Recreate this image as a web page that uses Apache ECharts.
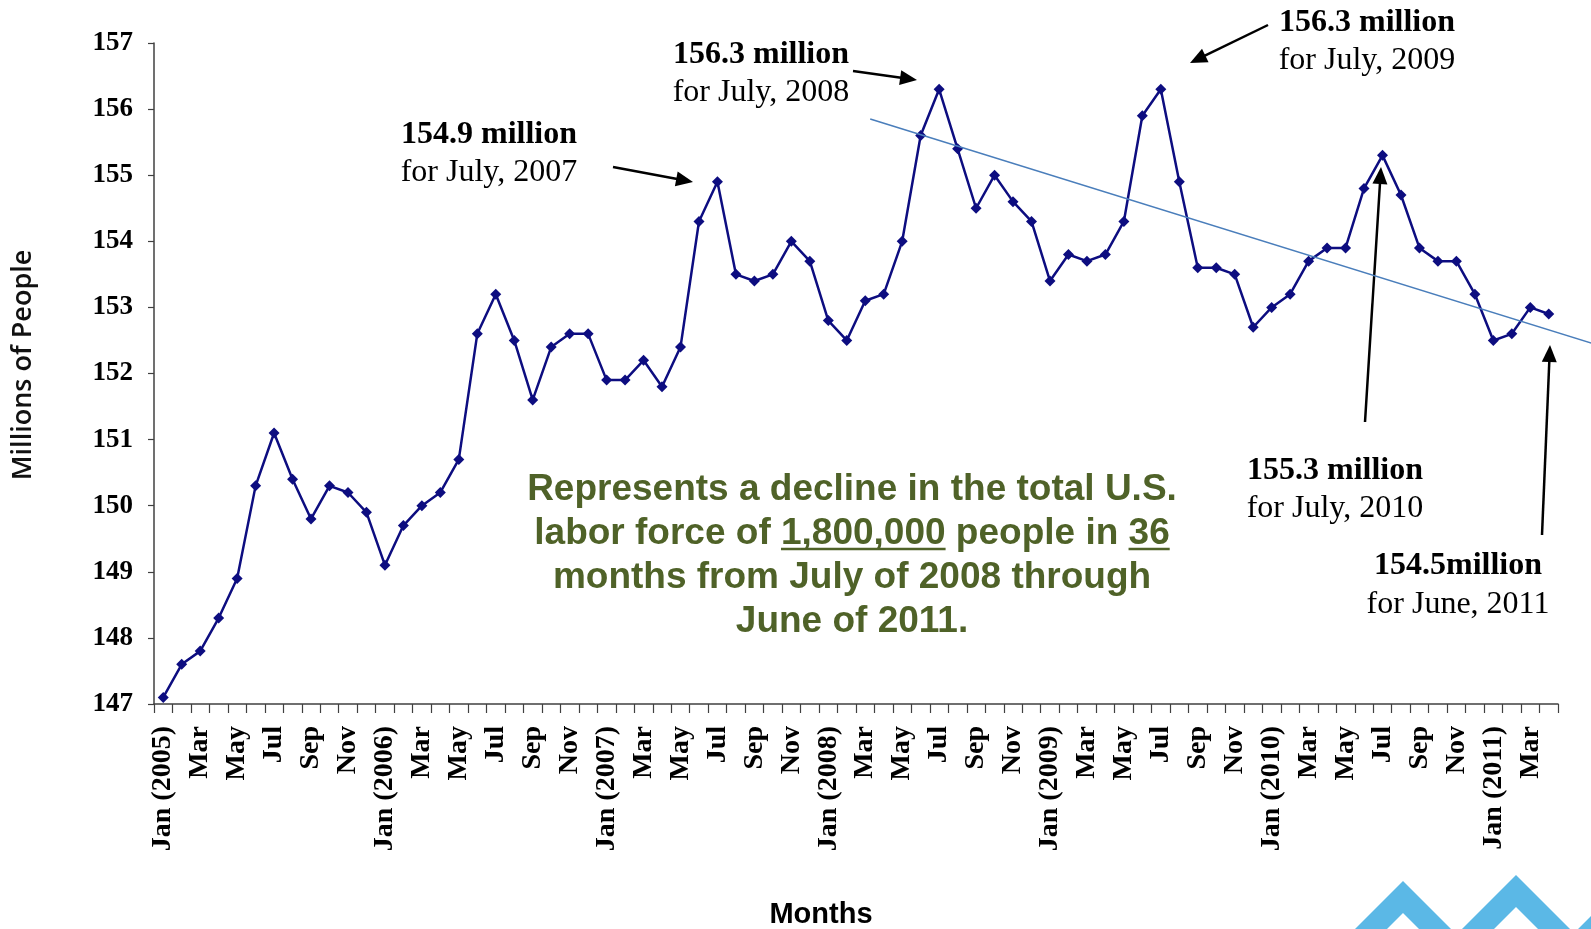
<!DOCTYPE html>
<html>
<head>
<meta charset="utf-8">
<title>U.S. Labor Force</title>
<script src="https://cdn.jsdelivr.net/npm/echarts@6/dist/echarts.min.js"></script>
<style>
  html, body { margin: 0; padding: 0; background: #ffffff; }
  #chart { width: 1591px; height: 929px; }
</style>
</head>
<body>
<div id="chart"></div>
<script>
// Month categories, Jan 2005 through Apr 2011
const months = [
  'Jan (2005)', 'Feb', 'Mar', 'Apr', 'May', 'Jun', 'Jul', 'Aug', 'Sep', 'Oct', 'Nov', 'Dec',
  'Jan (2006)', 'Feb', 'Mar', 'Apr', 'May', 'Jun', 'Jul', 'Aug', 'Sep', 'Oct', 'Nov', 'Dec',
  'Jan (2007)', 'Feb', 'Mar', 'Apr', 'May', 'Jun', 'Jul', 'Aug', 'Sep', 'Oct', 'Nov', 'Dec',
  'Jan (2008)', 'Feb', 'Mar', 'Apr', 'May', 'Jun', 'Jul', 'Aug', 'Sep', 'Oct', 'Nov', 'Dec',
  'Jan (2009)', 'Feb', 'Mar', 'Apr', 'May', 'Jun', 'Jul', 'Aug', 'Sep', 'Oct', 'Nov', 'Dec',
  'Jan (2010)', 'Feb', 'Mar', 'Apr', 'May', 'Jun', 'Jul', 'Aug', 'Sep', 'Oct', 'Nov', 'Dec',
  'Jan (2011)', 'Feb', 'Mar', 'Apr'
];

// Total labor force, millions of people
const laborForce = [
  147.1, 147.6, 147.8, 148.3, 148.9, 150.3, 151.1, 150.4, 149.8, 150.3, 150.2, 149.9,
  149.1, 149.7, 150.0, 150.2, 150.7, 152.6, 153.2, 152.5, 151.6, 152.4, 152.6, 152.6,
  151.9, 151.9, 152.2, 151.8, 152.4, 154.3, 154.9, 153.5, 153.4, 153.5, 154.0, 153.7,
  152.8, 152.5, 153.1, 153.2, 154.0, 155.6, 156.3, 155.4, 154.5, 155.0, 154.6, 154.3,
  153.4, 153.8, 153.7, 153.8, 154.3, 155.9, 156.3, 154.9, 153.6, 153.6, 153.5, 152.7,
  153.0, 153.2, 153.7, 153.9, 153.9, 154.8, 155.3, 154.7, 153.9, 153.7, 153.7, 153.2,
  152.5, 152.6, 153.0, 152.9
];

// Y axis range and step (millions)
const yMin = 147;
const yMax = 157;
const yStep = 1;

// Downward trend line: [month index, millions] at each end
const trendStart = [38.27, 155.85];
const trendEnd = [77.3, 152.46];

// Callout texts
const calloutValues = ['154.9 million', '156.3 million', '156.3 million', '155.3 million', '154.5million'];
const calloutPeriods = ['for July, 2007', 'for July, 2008', 'for July, 2009', 'for July, 2010', 'for June, 2011'];

// Summary note
const noteLines = [
  'Represents a decline in the total U.S.',
  'labor force of 1,800,000 people in 36',
  'months from July of 2008 through',
  'June of 2011.'
];
const noteUnderlined = ['1,800,000', '36'];

// ---- layout ----
const calloutLayout = [
  { x: 489,  y1: 135, y2: 173, from: [613, 167], to: [693, 182] },
  { x: 761,  y1: 55,  y2: 93,  from: [853, 71],  to: [917, 80] },
  { x: 1367, y1: 23,  y2: 61,  from: [1268, 25], to: [1190, 63] },
  { x: 1335, y1: 471, y2: 509, from: [1365, 422], to: [1381, 167] },
  { x: 1458, y1: 566, y2: 605, from: [1542, 535], to: [1550, 345] }
];
const serif = '"Liberation Serif", "Times New Roman", serif';
const sans = '"Liberation Sans", Arial, sans-serif';
const green = '#4f6228';
const noteFont = 'bold 37px ' + sans;
const noteCenterX = 852;
const noteTopY = 490;
const noteLineH = 44;

function arrow(from, to) {
  const [x1, y1] = from;
  const [x2, y2] = to;
  const a = Math.atan2(y2 - y1, x2 - x1);
  const L = 17, H = 7.5;
  const c = Math.cos(a), s = Math.sin(a);
  const bx = x2 - L * c, by = y2 - L * s;
  return [
    { type: 'line', silent: true, shape: { x1: x1, y1: y1, x2: bx + c, y2: by + s },
      style: { stroke: '#000', lineWidth: 2.5 } },
    { type: 'polygon', silent: true,
      shape: { points: [[x2, y2], [bx + H * s, by - H * c], [bx - H * s, by + H * c]] },
      style: { fill: '#000' } }
  ];
}

function chevron(px, py, t, L) {
  return {
    type: 'polygon', silent: true,
    shape: { points: [[px, py], [px + L, py + L], [px + L - t, py + L], [px, py + t],
                      [px - L + t, py + L], [px - L, py + L]] },
    style: { fill: '#5bb8e6' }
  };
}

const measureCtx = document.createElement('canvas').getContext('2d');
function textWidth(str, font) {
  measureCtx.font = font;
  return measureCtx.measureText(str).width;
}

const graphics = [];

// Axis titles
graphics.push({
  type: 'text', x: 23, y: 365, rotation: Math.PI / 2, silent: true,
  style: { text: 'Millions of People', font: '600 27px "Open Sans", sans-serif', fill: '#111',
           textAlign: 'center', textVerticalAlign: 'middle' }
});
graphics.push({
  type: 'text', x: 821, y: 915, silent: true,
  style: { text: 'Months', font: 'bold 29px ' + sans, fill: '#000',
           textAlign: 'center', textVerticalAlign: 'middle' }
});

// Callouts with arrows
calloutLayout.forEach((c, i) => {
  graphics.push({
    type: 'text', x: c.x, y: c.y1, silent: true,
    style: { text: calloutValues[i], font: 'bold 32px ' + serif, fill: '#000',
             textAlign: 'center', textVerticalAlign: 'middle' }
  });
  graphics.push({
    type: 'text', x: c.x, y: c.y2, silent: true,
    style: { text: calloutPeriods[i], font: '32px ' + serif, fill: '#000',
             textAlign: 'center', textVerticalAlign: 'middle' }
  });
  graphics.push(...arrow(c.from, c.to));
});

// Summary note, with underlined figures
noteLines.forEach((line, i) => {
  const y = noteTopY + i * noteLineH;
  graphics.push({
    type: 'text', x: noteCenterX, y: y, silent: true,
    style: { text: line, font: noteFont, fill: green, textAlign: 'center', textVerticalAlign: 'middle' }
  });
  const lineW = textWidth(line, noteFont);
  const left = noteCenterX - lineW / 2;
  noteUnderlined.forEach(word => {
    const idx = line.indexOf(word);
    if (idx < 0) return;
    const x0 = left + textWidth(line.slice(0, idx), noteFont);
    const w = textWidth(word, noteFont);
    graphics.push({
      type: 'line', silent: true,
      shape: { x1: x0, y1: y + 15, x2: x0 + w, y2: y + 15 },
      style: { stroke: green, lineWidth: 2.5 }
    });
  });
});

// Corner logo marks
graphics.push(chevron(1403, 881, 32, 70));
graphics.push(chevron(1516, 875, 32, 70));
graphics.push(chevron(1632, 875, 32, 70));

const chart = echarts.init(document.getElementById('chart'), null, { renderer: 'canvas' });
chart.setOption({
  animation: false,
  backgroundColor: '#ffffff',
  grid: { left: 154, right: 33, top: 43, bottom: 225, containLabel: false },
  xAxis: [
    {
      type: 'category',
      data: months,
      boundaryGap: true,
      axisLine: { show: true, onZero: false, lineStyle: { color: '#404040', width: 1.5 } },
      axisTick: { show: true, interval: 0, length: 9, lineStyle: { color: '#404040', width: 1.2 } },
      axisLabel: {
        interval: 1, rotate: 90, margin: 22,
        fontFamily: serif, fontWeight: 'bold', fontSize: 28, color: '#000'
      },
      splitLine: { show: false }
    },
    {
      type: 'value',
      min: -0.5,
      max: months.length - 0.5,
      show: false
    }
  ],
  yAxis: {
    type: 'value',
    min: yMin,
    max: yMax,
    interval: yStep,
    axisLine: { show: true, onZero: false, lineStyle: { color: '#404040', width: 1.5 } },
    axisTick: { show: true, length: 6, lineStyle: { color: '#404040', width: 1.2 } },
    axisLabel: { margin: 21, fontFamily: serif, fontWeight: 'bold', fontSize: 27, color: '#000' },
    splitLine: { show: false }
  },
  series: [
    {
      name: 'Labor Force',
      type: 'line',
      xAxisIndex: 0,
      data: laborForce,
      symbol: 'diamond',
      symbolSize: 11,
      showAllSymbol: true,
      itemStyle: { color: '#0d0d80' },
      lineStyle: { color: '#0d0d80', width: 2.5 },
      z: 3
    }
  ],
  graphic: graphics
});

// Trend line runs past the plot edge, so it is placed through the axes' own scales
const p0 = chart.convertToPixel({ xAxisIndex: 1, yAxisIndex: 0 }, trendStart);
const p1 = chart.convertToPixel({ xAxisIndex: 1, yAxisIndex: 0 }, trendEnd);
chart.setOption({
  graphic: graphics.concat([{
    type: 'line', silent: true, z: 10,
    shape: { x1: p0[0], y1: p0[1], x2: p1[0], y2: p1[1] },
    style: { stroke: '#4a7ebb', lineWidth: 1.5 }
  }])
});
</script>
</body>
</html>
